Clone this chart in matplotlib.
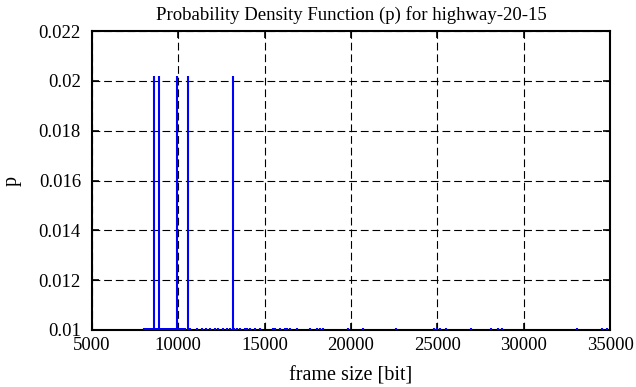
import matplotlib
matplotlib.use("Agg")
import matplotlib.pyplot as plt

# tall peaks of the pdf
peak_sizes = [8570, 8860, 9920, 10540, 13160]
peak_p = [0.0202, 0.0202, 0.0202, 0.0202, 0.0202]

# rare frame sizes, barely above the bottom of the y range
small_sizes = [8010, 8090, 8160, 8240, 8310, 8390, 8450, 8520, 8640, 8720,
               8790, 8950, 9030, 9110, 9180, 9260, 9340, 9410, 9490, 9560,
               9640, 9710, 9790, 9850, 10010, 10090, 10170, 10250, 10330,
               10390, 10675, 11063, 11352, 11602, 11833, 12123, 12297, 12586,
               12818, 12992, 13250, 13400, 13571, 13860, 13990, 14150, 14440,
               14729, 15481, 15597, 15887, 16177, 16320, 16466, 16871, 17624,
               18030, 18200, 18377, 19824, 20694, 22605, 24805, 24979, 25152,
               25500, 26947, 28105, 28510, 28742, 33085, 34533, 34822]
small_p = [0.01008] * len(small_sizes)

x_ticks = [5000, 10000, 15000, 20000, 25000, 30000, 35000]
y_ticks = [0.01, 0.012, 0.014, 0.016, 0.018, 0.02, 0.022]

plt.rcParams["font.family"] = ["Liberation Serif", "DejaVu Serif"]
plt.rcParams["font.size"] = 13.5

fig = plt.figure(figsize=(6.36, 3.87), dpi=100)
ax = fig.add_axes([92 / 636, 1 - 330 / 387, 518 / 636, 299 / 387])

ax.vlines(small_sizes, 0.01, small_p, color="#0000ff", lw=1.5, zorder=3)
ax.vlines(peak_sizes, 0.0, peak_p, color="#0000ff", lw=1.5, zorder=3)

ax.set_xlim(5000, 35000)
ax.set_ylim(0.01, 0.022)
ax.set_xticks(x_ticks)
ax.set_yticks(y_ticks)
ax.set_xticklabels([str(v) for v in x_ticks])
ax.set_yticklabels(["%g" % v for v in y_ticks])

ax.grid(True, color="black", linestyle=(0, (7, 3.5)), linewidth=0.8)
ax.set_axisbelow(True)
for s in ax.spines.values():
    s.set_linewidth(1.5)
ax.tick_params(direction="in", length=5, width=1.2, top=True, right=True,
               labelsize=13.5)
ax.tick_params(axis="y", pad=8)
ax.tick_params(axis="x", pad=5)

ax.set_title("Probability Density Function (p) for highway-20-15",
             fontsize=13.5, pad=8)
ax.set_xlabel("frame size [bit]", fontsize=14.5, labelpad=9)
ax.set_ylabel("p", fontsize=14.5, labelpad=12)

fig.savefig("out.png", dpi=100)
